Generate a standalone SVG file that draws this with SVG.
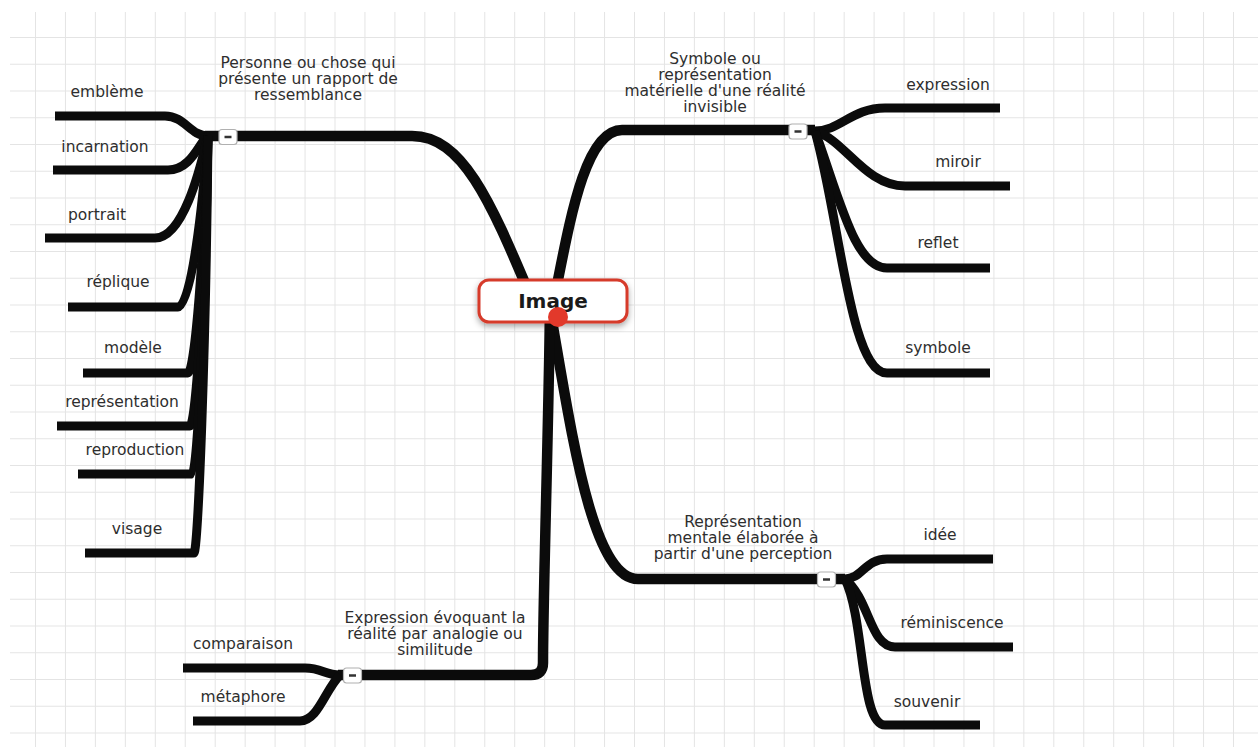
<svg xmlns="http://www.w3.org/2000/svg" width="1258" height="751" viewBox="0 0 1258 751">
<defs>
<pattern id="grid" patternUnits="userSpaceOnUse" x="35" y="37" width="29.95" height="26.75">
<path d="M0.5 0 V26.75 M0 0.5 H29.95" fill="none" stroke="#e4e4e4" stroke-width="1"/>
</pattern>
<filter id="shadow" x="-20%" y="-40%" width="140%" height="190%">
<feGaussianBlur in="SourceAlpha" stdDeviation="3"/>
<feOffset dx="0" dy="3" result="b"/>
<feFlood flood-color="#000" flood-opacity="0.35"/>
<feComposite in2="b" operator="in"/>
<feMerge><feMergeNode/><feMergeNode in="SourceGraphic"/></feMerge>
</filter>
<g id="btn">
<rect x="-9" y="-7.5" width="18" height="15" rx="3" fill="#fff" stroke="#b0b0b0" stroke-width="1.2"/>
<line x1="-3.5" y1="0" x2="3.5" y2="0" stroke="#333" stroke-width="2.5"/>
</g>
</defs>
<style>
.main{fill:none;stroke:#0b0b0b;stroke-width:10.5;stroke-linecap:butt;stroke-linejoin:round}
.sub{fill:none;stroke:#0b0b0b;stroke-width:9;stroke-linecap:butt;stroke-linejoin:round}
.lbl{font-family:"DejaVu Sans","Liberation Sans",sans-serif;font-size:15.5px;fill:#2e2e2e;text-anchor:middle}
.root{font-family:"DejaVu Sans","Liberation Sans",sans-serif;font-size:20px;font-weight:bold;fill:#1a1a1a;text-anchor:middle}
</style>
<rect width="1258" height="751" fill="#fff"/>
<rect x="10" y="12" width="1248" height="735" fill="url(#grid)"/>

<g id="connectors">
<path class="main" d="M530 295 C490 200 462 136 412 136 L205 136"/>
<path class="main" d="M555 295 C570 220 585 130 622 130 L815 130"/>
<path class="main" d="M550 310 C570 420 590 579 638 579 L845 579"/>
<path class="main" d="M550 310 C548 450 543 600 543 663 Q543 675 531 675 L338 675"/>
<path class="sub" d="M208 136 C190 136 185 116 165 116 L55 116"/>
<path class="sub" d="M208 136 C200 140 192 170 168 170 L53 170"/>
<path class="sub" d="M208 136 C202 160 185 238 155 238 L45 238"/>
<path class="sub" d="M208 136 C203 200 192 307 178 307 L68 307"/>
<path class="sub" d="M208 136 C204 250 195 373 188 373 L83 373"/>
<path class="sub" d="M208 136 C205 280 196 426 190 426 L57 426"/>
<path class="sub" d="M208 136 C205 300 198 474 192 474 L78 474"/>
<path class="sub" d="M208 136 C206 350 198 553 194 553 L85 553"/>
<path class="sub" d="M815 131 C840 131 852 108 885 108 L1000 108"/>
<path class="sub" d="M815 131 C845 140 865 186 905 186 L1010 186"/>
<path class="sub" d="M815 131 C840 200 855 268 887 268 L990 268"/>
<path class="sub" d="M815 131 C840 220 850 373 887 373 L990 373"/>
<path class="sub" d="M845 579 C862 579 865 559 887 559 L993 559"/>
<path class="sub" d="M845 579 C870 600 870 647 895 647 L1013 647"/>
<path class="sub" d="M845 579 C865 620 860 725 885 725 L980 725"/>
<path class="sub" d="M340 675 C325 675 322 668 305 668 L183 668"/>
<path class="sub" d="M340 675 C325 690 318 721 300 721 L193 721"/>
</g>

<g id="node-image">
<rect x="479" y="280" width="148" height="42" rx="10" fill="#fff" stroke="#d63b2c" stroke-width="3" filter="url(#shadow)"/>
<text class="root" x="553" y="308">Image</text>
<circle cx="558" cy="317" r="10" fill="#e2392b"/>
</g>

<g id="node-ressemblance">
<text class="lbl" x="308" y="68">Personne ou chose qui</text>
<text class="lbl" x="308" y="84">présente un rapport de</text>
<text class="lbl" x="308" y="100">ressemblance</text>
<use href="#btn" x="228" y="137"/>
</g>
<g id="node-symbole-materiel">
<text class="lbl" x="715" y="64">Symbole ou</text>
<text class="lbl" x="715" y="80">représentation</text>
<text class="lbl" x="715" y="96">matérielle d'une réalité</text>
<text class="lbl" x="715" y="112">invisible</text>
<use href="#btn" x="798" y="131.5"/>
</g>
<g id="node-representation-mentale">
<text class="lbl" x="743" y="527">Représentation</text>
<text class="lbl" x="743" y="543">mentale élaborée à</text>
<text class="lbl" x="743" y="559">partir d'une perception</text>
<use href="#btn" x="826.5" y="579.5"/>
</g>
<g id="node-analogie">
<text class="lbl" x="435" y="623">Expression évoquant la</text>
<text class="lbl" x="435" y="639">réalité par analogie ou</text>
<text class="lbl" x="435" y="655">similitude</text>
<use href="#btn" x="352.5" y="675.5"/>
</g>

<g id="node-embleme"><text class="lbl" x="107" y="97">emblème</text></g>
<g id="node-incarnation"><text class="lbl" x="105" y="152">incarnation</text></g>
<g id="node-portrait"><text class="lbl" x="97" y="220">portrait</text></g>
<g id="node-replique"><text class="lbl" x="118" y="287">réplique</text></g>
<g id="node-modele"><text class="lbl" x="133" y="353">modèle</text></g>
<g id="node-representation"><text class="lbl" x="122" y="407">représentation</text></g>
<g id="node-reproduction"><text class="lbl" x="135" y="455">reproduction</text></g>
<g id="node-visage"><text class="lbl" x="137" y="534">visage</text></g>

<g id="node-expression"><text class="lbl" x="948" y="90">expression</text></g>
<g id="node-miroir"><text class="lbl" x="958" y="167">miroir</text></g>
<g id="node-reflet"><text class="lbl" x="938" y="248">reflet</text></g>
<g id="node-symbole"><text class="lbl" x="938" y="353">symbole</text></g>

<g id="node-idee"><text class="lbl" x="940" y="540">idée</text></g>
<g id="node-reminiscence"><text class="lbl" x="952" y="628">réminiscence</text></g>
<g id="node-souvenir"><text class="lbl" x="927" y="707">souvenir</text></g>

<g id="node-comparaison"><text class="lbl" x="243" y="649">comparaison</text></g>
<g id="node-metaphore"><text class="lbl" x="243" y="702">métaphore</text></g>
</svg>
